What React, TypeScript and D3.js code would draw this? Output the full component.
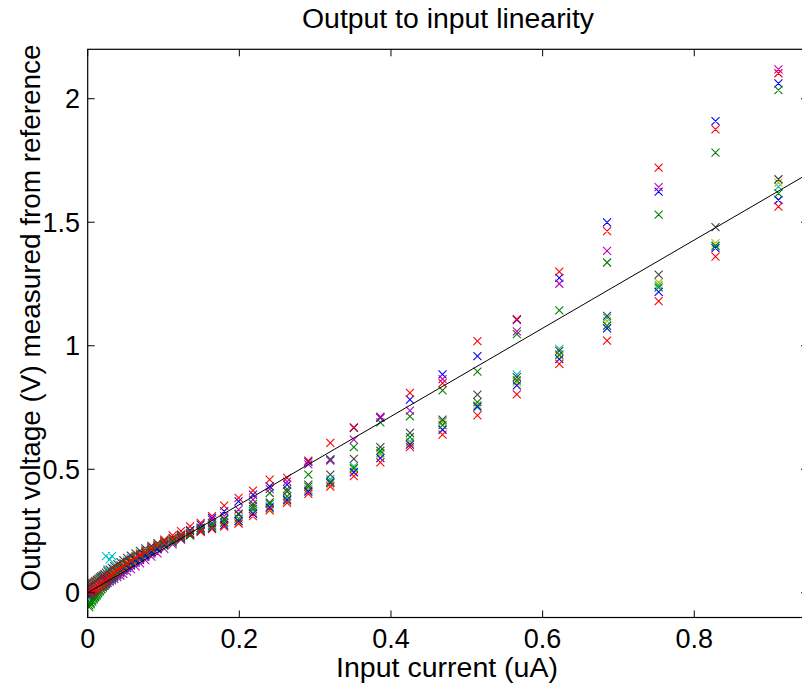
import React from "react";
import * as d3 from "d3";

// Column x-values (input current, uA)
const X_VALUES = [0.911, 0.828, 0.753, 0.685, 0.622, 0.566, 0.514, 0.468, 0.425, 0.386, 0.351, 0.320, 0.291, 0.263, 0.240, 0.218, 0.199, 0.180, 0.164, 0.149, 0.135, 0.123, 0.112, 0.101, 0.092, 0.084, 0.076, 0.069, 0.063, 0.057, 0.052, 0.047, 0.043, 0.039, 0.035, 0.032, 0.029, 0.026, 0.024, 0.022, 0.020, 0.018, 0.016, 0.014, 0.012, 0.010, 0.008, 0.006, 0.004, 0.002];

const S1_BLUE = [2.062, 1.909, 1.624, 1.499, 1.275, 1.105, 0.958, 0.884, 0.782, 0.708, 0.668, 0.539, 0.530, 0.438, 0.431, 0.397, 0.370, 0.330, 0.303, 0.276, 0.254, 0.233, 0.214, 0.195, 0.176, 0.160, 0.145, 0.133, 0.122, 0.111, 0.101, 0.091, 0.083, 0.075, 0.067, 0.060, 0.054, 0.048, 0.043, 0.038, 0.034, 0.030, 0.027, 0.023, 0.020, 0.016, 0.012, 0.008, 0.004, 0.000];
const S2_GREEN = [2.035, 1.782, 1.531, 1.337, 1.143, 1.047, 0.895, 0.819, 0.714, 0.690, 0.590, 0.540, 0.478, 0.420, 0.404, 0.360, 0.320, 0.295, 0.275, 0.256, 0.232, 0.218, 0.203, 0.190, 0.178, 0.162, 0.150, 0.136, 0.124, 0.112, 0.100, 0.090, 0.080, 0.071, 0.062, 0.054, 0.047, 0.040, 0.034, 0.028, 0.022, 0.016, 0.010, 0.004, -0.004, -0.012, -0.020, -0.030, -0.040, -0.050];
const S3_RED = [2.103, 1.876, 1.721, 1.464, 1.300, 1.108, 1.019, 0.849, 0.809, 0.712, 0.670, 0.607, 0.535, 0.465, 0.458, 0.414, 0.384, 0.353, 0.310, 0.283, 0.269, 0.250, 0.232, 0.215, 0.200, 0.186, 0.172, 0.160, 0.148, 0.136, 0.125, 0.114, 0.105, 0.096, 0.087, 0.082, 0.077, 0.072, 0.068, 0.065, 0.062, 0.058, 0.054, 0.050, 0.046, 0.042, 0.038, 0.034, 0.030, 0.026];
const S4_CYAN = [1.644, 1.402, 1.245, 1.113, 0.987, 0.883, 0.751, 0.695, 0.612, 0.565, 0.512, 0.460, 0.420, 0.380, 0.350, 0.330, 0.290, 0.285, 0.272, 0.256, 0.243, 0.230, 0.218, 0.205, 0.193, 0.181, 0.170, 0.159, 0.149, 0.139, 0.130, 0.121, 0.112, 0.104, 0.098, 0.148, 0.135, 0.095, 0.148, 0.072, 0.066, 0.060, 0.054, 0.048, 0.042, 0.036, 0.031, 0.026, 0.022, 0.018];
const S5_MAGENTA = [2.119, null, 1.642, 1.384, 1.251, 1.058, null, 0.865, 0.737, 0.712, 0.620, 0.535, 0.520, 0.450, 0.420, 0.377, 0.337, 0.310, 0.296, 0.262, 0.238, 0.215, 0.196, 0.178, 0.160, 0.146, 0.132, 0.119, 0.107, 0.096, 0.086, 0.077, 0.070, 0.063, 0.056, 0.050, 0.045, 0.040, 0.036, 0.032, 0.028, 0.024, 0.021, 0.017, 0.014, 0.010, 0.006, 0.002, -0.002, -0.006];
const S6_OLIVE = [1.660, 1.415, 1.256, 1.100, 0.960, 0.852, 0.761, 0.690, 0.607, 0.558, 0.500, 0.438, 0.418, 0.370, 0.340, 0.323, 0.283, 0.269, 0.262, 0.250, 0.240, 0.228, 0.216, 0.203, 0.191, 0.179, 0.167, 0.156, 0.145, 0.134, 0.124, 0.114, 0.106, 0.098, 0.090, 0.083, 0.077, 0.071, 0.065, 0.060, 0.055, 0.050, 0.045, 0.040, 0.035, 0.030, 0.025, 0.020, 0.015, 0.010];
const S7_GRAY = [1.674, 1.480, 1.288, 1.121, 0.979, 0.873, 0.802, 0.701, 0.647, 0.590, 0.542, 0.478, 0.438, 0.410, 0.366, 0.350, 0.317, 0.300, 0.282, 0.264, 0.250, 0.236, 0.222, 0.210, 0.200, 0.190, 0.180, 0.170, 0.160, 0.150, 0.141, 0.132, 0.124, 0.116, 0.108, 0.101, 0.094, 0.088, 0.082, 0.076, 0.070, 0.066, 0.062, 0.057, 0.052, 0.047, 0.042, 0.038, 0.034, 0.030];
const S8_BLUE = [1.590, 1.395, 1.218, 1.070, 0.946, 0.840, 0.755, 0.660, 0.600, 0.545, 0.488, 0.445, 0.410, 0.375, 0.345, 0.320, 0.290, 0.275, 0.262, 0.250, 0.237, 0.224, 0.209, 0.194, 0.180, 0.167, 0.154, 0.142, 0.131, 0.120, 0.110, 0.100, 0.092, 0.084, 0.076, 0.069, 0.062, 0.056, 0.050, 0.045, 0.040, 0.035, 0.030, 0.025, 0.020, 0.014, 0.008, 0.002, -0.005, -0.012];
const S9_GREEN = [1.617, 1.405, 1.236, 1.081, 0.964, 0.860, 0.772, 0.679, 0.630, 0.575, 0.505, 0.450, 0.430, 0.390, 0.360, 0.340, 0.300, 0.284, 0.269, 0.256, 0.232, 0.222, 0.210, 0.198, 0.186, 0.174, 0.162, 0.150, 0.138, 0.126, 0.115, 0.104, 0.094, 0.084, 0.074, 0.065, 0.056, 0.047, 0.038, 0.030, 0.022, 0.014, 0.006, -0.002, -0.010, -0.018, -0.027, -0.036, -0.046, -0.058];
const S10_RED = [1.563, 1.361, 1.181, 1.021, 0.927, 0.803, 0.718, 0.640, 0.590, 0.528, 0.472, 0.430, 0.400, 0.364, 0.334, 0.310, 0.280, 0.268, 0.258, 0.247, 0.240, 0.230, 0.218, 0.204, 0.192, 0.179, 0.166, 0.154, 0.142, 0.131, 0.120, 0.110, 0.100, 0.091, 0.082, 0.074, 0.066, 0.059, 0.052, 0.046, 0.040, 0.035, 0.030, 0.025, 0.020, 0.015, 0.011, 0.007, 0.003, 0.000];

const SERIES_VALUES = [S1_BLUE, S2_GREEN, S3_RED, S4_CYAN, S5_MAGENTA, S6_OLIVE, S7_GRAY, S8_BLUE, S9_GREEN, S10_RED];
const SERIES_COLORS = ["#0000ff", "#008000", "#ff0000", "#00bfbf", "#bf00bf", "#bfbf00", "#404040", "#0000ff", "#008000", "#ff0000"];

// Linear fit: [slope, intercept]
const FIT = [1.785, 0.0];

const X_TICKS = [0, 0.2, 0.4, 0.6, 0.8];
const Y_TICKS = [0, 0.5, 1, 1.5, 2];
const X_DOMAIN = [0, 0.95];
const Y_DOMAIN = [-0.1, 2.2];

const TITLE = "Output to input linearity";
const X_LABEL = "Input current (uA)";
const Y_LABEL = "Output voltage (V) measured from reference";

export default function App() {
  const W = 802;
  const H = 688;
  const left = 87.7;
  const right = 808;
  const top = 49.3;
  const bottom = 617.5;
  const x = d3.scaleLinear().domain(X_DOMAIN).range([left, right]);
  const y = d3.scaleLinear().domain(Y_DOMAIN).range([bottom, top]);
  const tick = 7;
  const h = 4;
  const font = "'Liberation Sans', Arial, Helvetica, sans-serif";

  const fitLine = d3.line<number>()
    .x((d) => x(d))
    .y((d) => y(FIT[0] * d + FIT[1]));

  const marks: JSX.Element[] = [];
  SERIES_VALUES.forEach((vals, si) => {
    const pathParts: string[] = [];
    vals.forEach((v, i) => {
      if (v === null || v === undefined) return;
      const cx = x(X_VALUES[i]);
      const cy = y(v);
      pathParts.push(`M${cx - h},${cy - h}L${cx + h},${cy + h}M${cx - h},${cy + h}L${cx + h},${cy - h}`);
    });
    marks.push(
      <path key={si} d={pathParts.join("")} stroke={SERIES_COLORS[si]} strokeWidth={1.1} fill="none" />
    );
  });

  return (
    <svg width={W} height={H} style={{ position: "absolute", left: 0, top: 0, background: "#fff" }} fontFamily={font}>
      <rect x={0} y={0} width={W} height={H} fill="#fff" />
      <defs>
        <clipPath id="plotclip">
          <rect x={left} y={top} width={right - left} height={bottom - top} />
        </clipPath>
      </defs>
      <g clipPath="url(#plotclip)">
        {marks}
        <path d={fitLine(X_DOMAIN) || ""} stroke="#000" strokeWidth={1} fill="none" />
      </g>
      <rect x={left} y={top} width={right - left} height={bottom - top} fill="none" stroke="#000" strokeWidth={1.2} />
      {X_TICKS.map((t) => (
        <g key={"xt" + t}>
          <line x1={x(t)} x2={x(t)} y1={bottom} y2={bottom - tick} stroke="#000" strokeWidth={1} />
          <line x1={x(t)} x2={x(t)} y1={top} y2={top + tick} stroke="#000" strokeWidth={1} />
          <text x={x(t)} y={648} textAnchor="middle" fontSize={27} fill="#000">{String(t)}</text>
        </g>
      ))}
      {Y_TICKS.map((t) => (
        <g key={"yt" + t}>
          <line x1={left} x2={left + tick} y1={y(t)} y2={y(t)} stroke="#000" strokeWidth={1} />
          <line x1={right} x2={right - tick} y1={y(t)} y2={y(t)} stroke="#000" strokeWidth={1} />
          <text x={80} y={y(t) + 9.5} textAnchor="end" fontSize={27} fill="#000">{String(t)}</text>
        </g>
      ))}
      <text x={448} y={28} textAnchor="middle" fontSize={27} fill="#000" textLength={292} lengthAdjust="spacingAndGlyphs">{TITLE}</text>
      <text x={447} y={676.5} textAnchor="middle" fontSize={27} fill="#000" textLength={222} lengthAdjust="spacingAndGlyphs">{X_LABEL}</text>
      <text transform={`translate(39.5,318) rotate(-90)`} textAnchor="middle" fontSize={27} fill="#000" textLength={547} lengthAdjust="spacingAndGlyphs">{Y_LABEL}</text>
    </svg>
  );
}
